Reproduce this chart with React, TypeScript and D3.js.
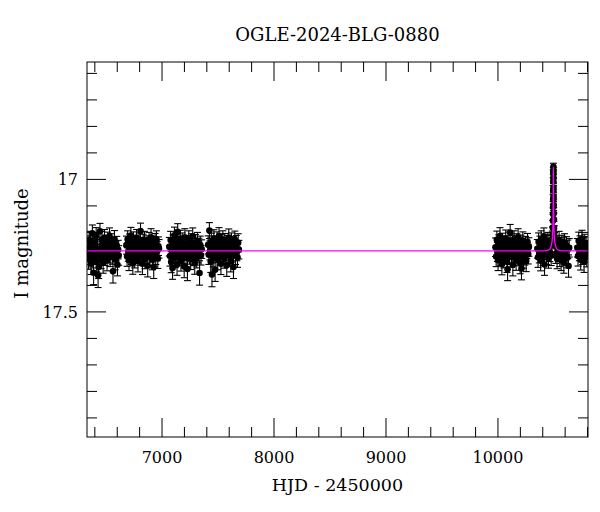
import React from 'react';
import * as d3 from 'd3';

const title = 'OGLE-2024-BLG-0880';
const xLabel = 'HJD - 2450000';
const yLabel = 'I magnitude';

const xDomain = [6330, 10804];
const yDomain = [16.557, 17.972];
const xMajorTicks = [7000, 8000, 9000, 10000];
const xTickLabels = ['7000', '8000', '9000', '10000'];
const yMajorTicks = [17, 17.5];
const yTickLabels = ['17', '17.5'];

// [HJD - 2450000, I mag, error]
const season2013 = [
  [6338, 17.262, .035], [6344, 17.301, .038], [6349, 17.228, .032], [6355, 17.286, .036],
  [6361, 17.247, .034], [6366, 17.318, .041], [6372, 17.271, .036], [6378, 17.203, .031],
  [6383, 17.295, .039], [6389, 17.352, .045], [6395, 17.258, .035], [6400, 17.236, .033],
  [6406, 17.284, .037], [6412, 17.214, .032], [6417, 17.309, .040], [6423, 17.262, .035],
  [6429, 17.362, .046], [6434, 17.331, .043], [6440, 17.276, .036], [6446, 17.196, .030],
  [6451, 17.268, .035], [6457, 17.299, .038], [6463, 17.229, .033], [6468, 17.252, .034],
  [6474, 17.314, .040], [6480, 17.273, .036], [6486, 17.221, .032], [6491, 17.288, .037],
  [6497, 17.244, .034], [6503, 17.263, .035], [6509, 17.306, .039], [6514, 17.232, .033],
  [6520, 17.279, .036], [6526, 17.254, .035], [6531, 17.215, .032], [6537, 17.291, .038],
  [6543, 17.267, .035], [6549, 17.238, .033], [6556, 17.283, .037], [6562, 17.347, .044],
  [6568, 17.257, .035], [6575, 17.226, .033], [6581, 17.302, .039], [6588, 17.271, .036],
  [6595, 17.249, .034], [6602, 17.322, .042], [6608, 17.265, .035], [6613, 17.287, .037],
];

const season2014 = [
  [6682, 17.248, .034], [6688, 17.291, .037], [6693, 17.226, .032], [6699, 17.273, .036],
  [6705, 17.305, .039], [6710, 17.239, .033], [6716, 17.262, .035], [6722, 17.212, .031],
  [6727, 17.284, .037], [6733, 17.253, .035], [6739, 17.317, .041], [6745, 17.231, .033],
  [6750, 17.269, .036], [6756, 17.296, .038], [6762, 17.244, .034], [6768, 17.278, .036],
  [6773, 17.221, .032], [6779, 17.258, .035], [6785, 17.309, .040], [6791, 17.266, .035],
  [6796, 17.235, .033], [6802, 17.287, .037], [6808, 17.195, .030], [6814, 17.254, .035],
  [6819, 17.275, .036], [6825, 17.318, .041], [6831, 17.241, .034], [6837, 17.263, .035],
  [6843, 17.229, .033], [6848, 17.299, .038], [6854, 17.257, .035], [6860, 17.282, .037],
  [6866, 17.247, .034], [6872, 17.326, .042], [6878, 17.268, .036], [6884, 17.233, .033],
  [6890, 17.291, .038], [6896, 17.255, .035], [6902, 17.218, .032], [6908, 17.276, .036],
  [6914, 17.302, .039], [6920, 17.249, .034], [6926, 17.331, .043], [6932, 17.264, .035],
  [6938, 17.237, .033], [6944, 17.284, .037], [6950, 17.226, .032], [6956, 17.271, .036],
  [6962, 17.298, .038], [6968, 17.252, .035], [6973, 17.262, .035],
];

const season2015 = [
  [7065, 17.254, .035], [7071, 17.289, .038], [7077, 17.229, .033], [7082, 17.312, .040],
  [7088, 17.267, .036], [7094, 17.334, .043], [7099, 17.243, .034], [7105, 17.276, .036],
  [7111, 17.211, .031], [7117, 17.295, .038], [7122, 17.258, .035], [7128, 17.237, .033],
  [7134, 17.321, .041], [7140, 17.198, .031], [7146, 17.272, .036], [7151, 17.248, .034],
  [7157, 17.286, .037], [7163, 17.224, .032], [7169, 17.307, .039], [7174, 17.263, .035],
  [7180, 17.235, .033], [7186, 17.281, .037], [7192, 17.252, .035], [7198, 17.329, .042],
  [7204, 17.218, .032], [7209, 17.269, .036], [7215, 17.294, .038], [7221, 17.246, .034],
  [7227, 17.338, .044], [7233, 17.261, .035], [7239, 17.227, .033], [7244, 17.283, .037],
  [7250, 17.254, .035], [7256, 17.301, .039], [7262, 17.239, .034], [7268, 17.274, .036],
  [7274, 17.215, .032], [7280, 17.288, .037], [7286, 17.256, .035], [7292, 17.317, .041],
  [7298, 17.242, .034], [7304, 17.268, .036], [7310, 17.296, .038], [7316, 17.233, .033],
  [7322, 17.279, .036], [7329, 17.257, .035], [7335, 17.353, .046], [7341, 17.248, .034],
  [7348, 17.286, .037], [7354, 17.263, .035],
];

const season2016 = [
  [7412, 17.247, .034], [7418, 17.284, .037], [7423, 17.193, .030], [7429, 17.268, .036],
  [7435, 17.311, .040], [7440, 17.236, .033], [7446, 17.359, .046], [7452, 17.257, .035],
  [7457, 17.292, .038], [7463, 17.222, .032], [7469, 17.271, .036], [7474, 17.341, .044],
  [7480, 17.249, .034], [7486, 17.279, .036], [7491, 17.231, .033], [7497, 17.302, .039],
  [7503, 17.259, .035], [7509, 17.214, .032], [7514, 17.286, .037], [7520, 17.252, .035],
  [7526, 17.318, .041], [7532, 17.241, .034], [7537, 17.274, .036], [7543, 17.227, .033],
  [7549, 17.263, .035], [7555, 17.297, .038], [7561, 17.238, .034], [7566, 17.281, .037],
  [7572, 17.255, .035], [7578, 17.324, .042], [7584, 17.246, .034], [7590, 17.269, .036],
  [7596, 17.219, .032], [7602, 17.288, .037], [7608, 17.257, .035], [7614, 17.309, .040],
  [7620, 17.235, .033], [7626, 17.276, .036], [7632, 17.251, .035], [7638, 17.331, .043],
  [7644, 17.262, .035], [7650, 17.228, .033], [7656, 17.284, .037], [7662, 17.246, .034],
  [7668, 17.271, .036], [7674, 17.294, .038], [7680, 17.239, .034], [7686, 17.265, .035],
];

const season2023 = [
  [9978, 17.256, .035], [9984, 17.291, .038], [9990, 17.228, .033], [9995, 17.274, .036],
  [10001, 17.305, .039], [10007, 17.243, .034], [10012, 17.267, .036], [10018, 17.214, .032],
  [10024, 17.287, .037], [10029, 17.252, .035], [10035, 17.319, .041], [10041, 17.236, .033],
  [10046, 17.271, .036], [10052, 17.296, .038], [10058, 17.247, .034], [10063, 17.281, .037],
  [10069, 17.223, .032], [10075, 17.262, .035], [10080, 17.311, .040], [10086, 17.339, .043],
  [10092, 17.257, .035], [10098, 17.232, .033], [10104, 17.284, .037], [10109, 17.201, .031],
  [10115, 17.266, .036], [10121, 17.293, .038], [10127, 17.245, .034], [10133, 17.322, .042],
  [10139, 17.258, .035], [10144, 17.227, .033], [10150, 17.279, .036], [10156, 17.252, .035],
  [10162, 17.304, .039], [10168, 17.239, .034], [10174, 17.273, .036], [10180, 17.218, .032],
  [10186, 17.289, .037], [10192, 17.256, .035], [10198, 17.315, .041], [10204, 17.244, .034],
  [10210, 17.336, .043], [10216, 17.268, .036], [10222, 17.231, .033], [10228, 17.297, .038],
  [10234, 17.261, .035], [10240, 17.286, .037], [10246, 17.249, .034], [10252, 17.308, .040],
  [10258, 17.264, .035], [10264, 17.237, .033], [10270, 17.282, .037], [10276, 17.255, .035],
];

const season2024 = [
  [10352, 17.262, .035], [10358, 17.294, .038], [10363, 17.235, .033], [10369, 17.279, .036],
  [10375, 17.248, .034], [10381, 17.306, .039], [10386, 17.227, .033], [10392, 17.269, .036],
  [10398, 17.253, .035], [10404, 17.288, .037], [10410, 17.215, .032], [10416, 17.321, .041],
  [10421, 17.259, .035], [10427, 17.241, .034], [10433, 17.284, .037], [10439, 17.266, .036],
  [10445, 17.233, .033], [10451, 17.297, .038], [10457, 17.256, .035], [10463, 17.274, .036],
  [10469, 17.246, .034], [10475, 17.288, .037],
  [10516, 17.281, .036], [10522, 17.247, .034], [10528, 17.299, .038], [10534, 17.256, .035],
  [10540, 17.273, .036], [10546, 17.229, .033], [10552, 17.291, .038], [10558, 17.262, .035],
  [10564, 17.305, .039], [10570, 17.245, .034], [10576, 17.278, .036], [10582, 17.253, .035],
  [10588, 17.314, .040], [10594, 17.238, .033], [10600, 17.269, .036], [10606, 17.287, .037],
  [10612, 17.251, .035], [10618, 17.296, .038], [10624, 17.264, .035], [10630, 17.327, .042],
  [10636, 17.258, .035],
];

const peak2024 = [
  [10479, 17.246, .033], [10485, 17.226, .031], [10488, 17.208, .029], [10490, 17.182, .027],
  [10491.4, 17.156, .025], [10492.2, 17.131, .023], [10492.9, 17.104, .021], [10493.5, 17.074, .019],
  [10494, 17.041, .017], [10494.4, 17.008, .015], [10494.7, 16.978, .014], [10495, 16.952, .013],
  [10495.3, 16.969, .013], [10495.6, 16.996, .014], [10496, 17.032, .016], [10496.5, 17.066, .018],
  [10497.1, 17.097, .020], [10497.8, 17.128, .022], [10498.6, 17.151, .024], [10500, 17.185, .027],
  [10502, 17.204, .029], [10505, 17.231, .031], [10509, 17.247, .033],
];

const season2025 = [
  [10709, 17.258, .035], [10715, 17.289, .038], [10721, 17.232, .033], [10727, 17.271, .036],
  [10733, 17.247, .034], [10739, 17.303, .039], [10745, 17.262, .035], [10751, 17.224, .032],
  [10757, 17.284, .037], [10763, 17.255, .035], [10769, 17.311, .040], [10775, 17.241, .034],
  [10781, 17.276, .036], [10787, 17.251, .035], [10793, 17.292, .038], [10799, 17.266, .035],
];

// model curve (magenta)
const modelTimes = [6330, 10415, 10455, 10470, 10479, 10485, 10489, 10491, 10492.5, 10493.5, 10494.3,
  10495, 10495.7, 10496.5, 10497.5, 10499, 10501, 10505, 10511, 10520, 10535, 10575, 10804];
const modelMags = [17.27, 17.27, 17.266, 17.258, 17.245, 17.225, 17.195, 17.165, 17.12, 17.07, 17.01,
  16.955, 17.01, 17.07, 17.12, 17.165, 17.195, 17.225, 17.245, 17.258, 17.266, 17.27, 17.27];

const W = 600;
const H = 512;
const margin = { left: 87, top: 62, right: 12, bottom: 75 };
const font = '"DejaVu Serif", serif';

export default function App() {
  const iw = W - margin.left - margin.right;
  const ih = H - margin.top - margin.bottom;

  const x = d3.scaleLinear().domain(xDomain).range([0, iw]);
  const y = d3.scaleLinear().domain(yDomain).range([0, ih]);

  const points = [season2013, season2014, season2015, season2016, season2023, season2024, peak2024, season2025].flat();

  const xMinor = d3.range(6400, 10801, 200).filter(v => !xMajorTicks.includes(v));
  const yMinor = d3.range(16.6, 17.95, 0.1).map(v => +v.toFixed(1)).filter(v => !yMajorTicks.includes(v));

  const model = d3.line<number>()
    .x((d, i) => x(modelTimes[i]))
    .y(d => y(d))
    .curve(d3.curveMonotoneX);

  const major = 19;
  const minor = 10;
  const cap = 3.5;

  return (
    <svg width={W} height={H} style={{ position: 'absolute', left: 0, top: 0, background: '#fff' }}>
      <defs>
        <clipPath id="plot">
          <rect x={0} y={0} width={iw} height={ih} />
        </clipPath>
      </defs>
      <text x={margin.left + iw / 2} y={41} textAnchor="middle" fontFamily={font} fontSize={18}>{title}</text>
      <g transform={`translate(${margin.left},${margin.top})`}>
        <g clipPath="url(#plot)">
          <g stroke="#000" strokeWidth={1.1}>
            {points.map((d, i) => {
              const px = x(d[0]);
              const y1 = y(d[1] - d[2]);
              const y2 = y(d[1] + d[2]);
              return (
                <g key={i}>
                  <line x1={px} x2={px} y1={y1} y2={y2} />
                  <line x1={px - cap} x2={px + cap} y1={y1} y2={y1} />
                  <line x1={px - cap} x2={px + cap} y1={y2} y2={y2} />
                </g>
              );
            })}
          </g>
          <g fill="#000">
            {points.map((d, i) => (
              <circle key={i} cx={x(d[0])} cy={y(d[1])} r={3.3} />
            ))}
          </g>
          <path d={model(modelMags) || ''} fill="none" stroke="#ff00ff" strokeWidth={1.3} />
        </g>

        <g stroke="#000" strokeWidth={1}>
          {xMajorTicks.map(v => (
            <g key={'xM' + v}>
              <line x1={x(v)} x2={x(v)} y1={ih} y2={ih - major} />
              <line x1={x(v)} x2={x(v)} y1={0} y2={major} />
            </g>
          ))}
          {xMinor.map(v => (
            <g key={'xm' + v}>
              <line x1={x(v)} x2={x(v)} y1={ih} y2={ih - minor} />
              <line x1={x(v)} x2={x(v)} y1={0} y2={minor} />
            </g>
          ))}
          {yMajorTicks.map(v => (
            <g key={'yM' + v}>
              <line x1={0} x2={major} y1={y(v)} y2={y(v)} />
              <line x1={iw} x2={iw - major} y1={y(v)} y2={y(v)} />
            </g>
          ))}
          {yMinor.map(v => (
            <g key={'ym' + v}>
              <line x1={0} x2={minor} y1={y(v)} y2={y(v)} />
              <line x1={iw} x2={iw - minor} y1={y(v)} y2={y(v)} />
            </g>
          ))}
          <rect x={0} y={0} width={iw} height={ih} fill="none" />
        </g>

        {xMajorTicks.map((v, i) => (
          <text key={'xl' + v} x={x(v)} y={ih + 26} textAnchor="middle" fontFamily={font} fontSize={16}>{xTickLabels[i]}</text>
        ))}
        {yMajorTicks.map((v, i) => (
          <text key={'yl' + v} x={-9} y={y(v) + 6} textAnchor="end" fontFamily={font} fontSize={16}>{yTickLabels[i]}</text>
        ))}
        <text x={iw / 2} y={ih + 54} textAnchor="middle" fontFamily={font} fontSize={17.5}>{xLabel}</text>
        <text transform={`translate(${28 - margin.left},${ih / 2 - 6}) rotate(-90)`} textAnchor="middle" fontFamily={font} fontSize={18}>{yLabel}</text>
      </g>
    </svg>
  );
}
